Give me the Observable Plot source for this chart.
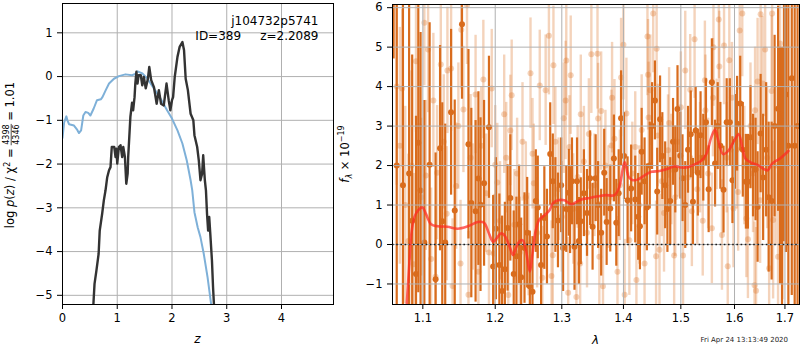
<!DOCTYPE html>
<html><head><meta charset="utf-8">
<script src="https://cdn.jsdelivr.net/npm/d3@7"></script>
<script src="https://cdn.jsdelivr.net/npm/@observablehq/plot@0.6"></script>
<style>
html,body{margin:0;padding:0;background:#fff;}
#wrap{position:relative;width:800px;height:350px;overflow:hidden;}
#wrap svg{position:absolute;top:0;}
</style></head><body><div id="wrap"></div>
<script>
// ---------- Left panel: log p(z) ----------
const zTicks = [0, 1, 2, 3, 4];
const pTicks = [-5, -4, -3, -2, -1, 0, 1];
const zBlue = [0, 0.03, 0.07, 0.09, 0.12, 0.21, 0.27, 0.30, 0.34, 0.38, 0.42, 0.47, 0.51, 0.57, 0.63, 0.70, 0.73, 0.79, 0.85, 0.94, 1.03, 1.15, 1.27, 1.33, 1.37, 1.46, 1.55, 1.67, 1.79, 1.91, 2.0, 2.10, 2.19, 2.27, 2.34, 2.37, 2.41, 2.47, 2.52, 2.58, 2.65, 2.72];
const logpBlue = [-1.4, -1.05, -0.91, -1.0, -1.09, -1.12, -1.22, -1.29, -1.23, -0.89, -0.81, -0.83, -0.89, -0.73, -0.54, -0.52, -0.47, -0.31, -0.16, -0.05, 0.01, 0.05, 0.03, 0.06, 0.12, 0.07, -0.05, -0.27, -0.50, -0.77, -0.96, -1.23, -1.53, -1.92, -2.37, -2.6, -3.1, -3.45, -3.67, -4.05, -4.59, -5.25];
const zDark = [0.56, 0.585, 0.62, 0.66, 0.68, 0.725, 0.755, 0.786, 0.817, 0.85, 0.877, 0.90, 0.92, 0.945, 0.969, 0.985, 1.0, 1.03, 1.06, 1.09, 1.11, 1.14, 1.165, 1.19, 1.2, 1.24, 1.27, 1.29, 1.316, 1.33, 1.35, 1.37, 1.39, 1.43, 1.457, 1.486, 1.52, 1.56, 1.585, 1.62, 1.67, 1.72, 1.76, 1.80, 1.85, 1.90, 1.94, 1.97, 2.0, 2.02, 2.05, 2.10, 2.14, 2.19, 2.22, 2.25, 2.29, 2.34, 2.39, 2.41, 2.46, 2.49, 2.52, 2.55, 2.57, 2.60, 2.62, 2.64, 2.66, 2.68, 2.70, 2.73, 2.75, 2.77];
const logpDark = [-5.3, -4.74, -4.43, -4.05, -3.52, -3.13, -2.83, -2.6, -2.3, -2.14, -2.07, -1.61, -1.61, -1.61, -1.84, -1.65, -1.99, -1.61, -1.57, -1.84, -1.61, -1.84, -2.45, -2.22, -1.84, -0.92, -0.6, -0.77, -0.47, -0.16, 0.11, -0.16, 0.03, 0.03, -0.2, -0.01, -0.27, -0.05, 0.22, -0.08, -0.24, -0.62, -0.31, -0.62, -0.66, -0.16, -0.54, -0.77, -0.54, -0.47, -0.01, 0.45, 0.68, 0.79, 0.60, -0.05, -0.31, -0.85, -1.0, -1.34, -1.61, -1.92, -2.37, -2.22, -1.80, -2.37, -2.6, -3.14, -3.52, -3.21, -3.6, -4.21, -4.82, -5.3];
const annoLines = ["j104732p5741", "ID=389\u00a0\u00a0\u00a0\u00a0\u00a0z=2.2089"];

// ---------- Right panel: spectrum ----------
const lamTicks = [1.1, 1.2, 1.3, 1.4, 1.5, 1.6, 1.7];
const fTicks = [-1, 0, 1, 2, 3, 4, 5, 6];
const lamA = [
 1.062,1.066,1.074,1.082,1.086,1.091,1.094,1.097,1.102,1.109,
 1.117,1.123,1.126,1.130,1.138,1.143,1.153,1.162,1.166,1.172,
 1.176,1.179,1.184,1.191,1.197,1.201,1.206,1.210,1.214,
 1.218,1.222,1.227,1.231,1.235,1.238,1.243,1.247,1.251,1.255,
 1.260,1.263,1.268,1.273,1.277,1.282,1.286,1.290,1.294,1.299,
 1.302,1.307,1.311,1.313,1.316,1.320,1.324,1.327,1.330,1.335,
 1.340,1.345,1.349,1.354,1.358,1.363,1.368,1.372,1.378,1.384,
 1.388,1.392,1.396,1.401,1.407,1.413,1.420,1.425,1.428,1.431,
 1.436,1.440,1.445,1.449,1.454,1.458,1.463,1.467,1.472,1.476,
 1.481,1.486,1.490,1.494,1.499,1.503,1.508,1.513,1.518,1.522,
 1.527,1.531,1.536,1.541,1.546,1.551,1.557,1.563,1.568,1.573,
 1.579,1.585,1.591,1.596,1.601,1.605,1.611,1.616,1.622,1.626,
 1.631,1.636,1.641,1.645,1.651,1.656,1.662,1.667,1.673,1.679,
 1.686,1.690,1.694,1.698,1.702,1.707,1.714,1.720,1.726];
const fluxA = [
 7.5,2.0,1.5,1.8,0.6,-0.75,2.58,1.37,0.05,2.02,
 -0.88,2.44,0.59,0.05,3.35,0.86,5.58,2.54,1.05,0.84,
 1.67,1.01,1.55,2.97,-0.56,0.4,-0.52,-1.18,-0.63,
 0.42,1.18,-0.75,-0.3,0.51,-0.83,-0.09,0.3,-1.06,-1.2,
 1.10,0.94,-0.52,0.67,0.2,2.29,1.60,1.0,0.61,1.5,
 -0.09,0.9,1.31,0.87,1.60,-0.06,1.60,0.09,0.59,1.30,
 0.8,1.68,0.45,1.68,1.0,0.3,1.82,0.57,0.91,2.18,
 0.55,1.3,3.20,2.24,1.12,1.42,1.14,0.7,0.46,2.35,
 1.6,0.94,2.0,3.0,3.65,1.34,3.17,2.24,1.5,0.9,
 1.10,2.6,1.9,3.43,2.25,1.68,1.0,2.4,2.79,1.08,
 2.89,1.82,2.77,2.2,3.1,1.4,4.11,2.05,3.0,2.5,
 1.39,3.1,3.10,1.63,2.6,3.06,3.57,2.4,1.59,1.59,
 2.72,2.0,1.90,0.95,2.81,1.7,2.4,1.2,1.10,3.0,
 3.44,2.0,1.5,3.27,3.80,2.5,4.21,2.5,3.0];
const errA = [
 2.8,6,5,4.5,4.2,4.0,3.8,4.0,3.6,3.6,
 3.2,2.6,3.0,3.0,2.1,2.8,1.9,2.4,2.4,2.3,
 2.2,2.2,2.1,1.8,1.8,1.8,1.8,1.9,1.7,
 1.6,1.6,1.6,1.5,1.5,1.5,1.4,1.4,1.4,1.4,
 1.3,1.3,1.3,1.3,1.2,1.3,1.2,1.2,1.2,1.2,
 1.1,1.1,1.1,1.1,1.1,1.1,1.1,1.1,1.1,1.1,
 1.1,1.2,1.1,1.1,1.1,1.1,1.1,1.1,1.1,1.1,
 1.1,1.1,1.2,1.1,1.1,1.1,1.1,1.1,1.1,1.1,
 1.1,1.1,1.1,1.1,1.0,1.1,1.1,1.1,1.1,1.1,
 1.1,1.1,1.1,1.1,1.1,1.1,1.1,1.1,1.1,1.1,
 1.1,1.1,1.1,1.1,1.1,1.1,1.1,1.1,1.1,1.1,
 1.1,1.1,1.1,1.1,1.2,1.2,1.2,1.2,1.2,1.2,
 1.3,1.3,1.3,1.4,1.5,1.6,1.7,1.9,2.0,2.3,
 2.6,3.0,3.5,3.2,4.0,5,5.5,6,7];
const lamB = [
 1.066,1.070,1.073,1.077,1.081,1.085,1.088,1.091,1.095,1.098,
 1.102,1.104,1.107,1.111,1.114,1.117,1.119,1.124,1.128,1.132,
 1.133,1.138,1.140,1.145,1.148,1.151,1.152,1.155,1.160,1.162,
 1.165,1.168,1.172,1.176,1.180,1.183,1.187,1.191,1.195,1.198,
 1.200,1.203,1.207,1.213,1.216,1.219,1.222,1.224,1.228,1.232,
 1.236,1.240,1.245,1.249,1.252,1.255,1.257,1.262,1.266,1.270,
 1.275,1.280,1.284,1.286,1.287,1.290,1.295,1.300,1.303,1.306,
 1.307,1.310,1.312,1.314,1.318,1.323,1.325,1.329,1.330,1.335,
 1.340,1.343,1.347,1.352,1.357,1.358,1.360,1.363,1.366,1.370,
 1.375,1.380,1.381,1.385,1.390,1.394,1.396,1.400,1.402,1.405,
 1.410,1.415,1.420,1.422,1.427,1.431,1.436,1.441,1.442,1.443,
 1.446,1.451,1.456,1.457,1.459,1.462,1.466,1.470,1.477,1.479,
 1.483,1.488,1.490,1.495,1.500,1.504,1.508,1.513,1.517,1.520,
 1.525,1.530,1.535,1.540,1.544,1.545,1.550,1.557,1.559,1.560,
 1.566,1.570,1.571,1.576,1.580,1.585,1.587,1.590,1.595,1.598,
 1.604,1.607,1.610,1.615,1.619,1.623,1.626,1.631,1.636,1.639,
 1.640,1.642,1.645,1.650,1.651,1.655,1.660,1.664,1.668,1.673,
 1.674,1.676,1.681,1.686,1.690,1.695,1.700];
const fluxB = [
 4.0,2.5,3.95,1.0,0.09,2.0,-0.5,4.64,3.0,1.2,
 5.62,1.75,4.94,-0.37,3.65,-0.82,1.82,4.56,2.6,0.78,
 4.41,4.46,-1.05,1.48,3.0,-0.48,5.44,3.42,6.06,-1.27,
 2.2,0.95,3.8,-0.69,2.5,4.18,1.3,-0.2,3.95,-0.23,
 2.02,1.57,0.6,3.3,2.2,-1.28,2.89,3.78,0.5,1.8,
 -0.2,2.6,1.2,0.0,4.34,2.30,1.55,0.3,4.03,-0.84,
 3.91,5.29,-0.8,-0.27,4.54,2.6,1.4,0.7,3.2,3.65,
 4.66,-1.22,2.47,4.29,0.9,-1.33,1.71,-0.48,3.3,2.1,
 0.3,2.8,4.82,1.5,4.83,3.19,-0.31,3.38,-1.06,2.0,
 1.2,2.51,3.72,2.68,-0.69,1.5,4.23,5.06,-1.27,3.32,
 0.11,1.8,2.47,-0.9,1.0,2.9,-0.48,5.27,4.30,3.22,
 3.91,5.85,-0.30,4.96,2.76,-0.13,1.6,0.8,2.39,3.08,
 1.9,-0.28,1.2,2.6,3.48,-0.28,4.41,1.7,3.92,0.84,
 5.2,1.4,2.2,0.6,4.16,3.4,1.8,0.41,3.72,5.0,
 2.79,5.70,4.51,0.24,5.04,2.2,-0.55,4.67,3.72,0.91,
 2.4,1.33,5.42,5.85,2.0,0.66,0.13,3.0,1.8,-1.03,
 3.4,-1.17,4.13,1.12,5.83,4.08,4.94,2.2,-0.6,3.89,
 5.85,0.62,2.0,-0.31,5.09,1.0,3.0];
const errB = [
 2.5,3.0,2.0,2.5,2.2,2.4,2.3,1.8,2.0,2.0,
 1.6,1.9,1.6,1.8,1.7,1.8,1.7,1.6,1.7,1.7,
 1.6,1.6,1.7,1.6,1.6,1.6,1.5,1.6,1.5,1.6,
 1.6,1.6,1.5,1.5,1.5,1.5,1.5,1.5,1.5,1.5,
 1.5,1.5,1.5,1.5,1.4,1.4,1.4,1.4,1.4,1.4,
 1.4,1.5,1.4,1.3,1.4,1.4,1.5,1.4,1.4,1.3,
 1.4,1.5,1.4,1.4,1.5,1.4,1.3,1.4,1.4,1.5,
 1.4,1.4,1.3,1.5,1.4,1.4,1.3,1.4,1.5,1.4,
 1.4,1.4,1.5,1.3,1.4,1.4,1.4,1.5,1.4,1.4,
 1.3,1.4,1.4,1.5,1.4,1.4,1.5,1.4,1.4,1.4,
 1.4,1.3,1.4,1.4,1.5,1.4,1.4,1.5,1.4,1.4,
 1.4,1.5,1.4,1.4,1.3,1.4,1.4,1.5,1.4,1.4,
 1.4,1.4,1.5,1.4,1.4,1.4,1.5,1.4,1.4,1.4,
 1.5,1.4,1.4,1.4,1.5,1.4,1.4,1.4,1.5,1.5,
 1.4,1.5,1.4,1.4,1.5,1.4,1.5,1.5,1.4,1.5,
 1.5,1.5,1.5,1.6,1.5,1.5,1.5,1.6,1.5,1.6,
 1.6,1.6,1.6,1.6,1.7,1.7,1.7,1.8,1.8,1.9,
 1.9,2.0,2.0,2.1,2.2,2.4,2.5];
const lamModel = [1.077,1.079,1.082,1.085,1.089,1.094,1.0996,1.104,1.111,1.120,1.133,1.147,1.161,1.175,1.184,1.191,1.197,1.2035,1.208,1.213,1.221,1.226,1.230,1.235,1.240,1.245,1.251,1.255,1.260,1.265,1.273,1.281,1.286,1.294,1.304,1.315,1.323,1.331,1.344,1.358,1.371,1.385,1.393,1.402,1.409,1.416,1.425,1.436,1.448,1.462,1.477,1.489,1.501,1.513,1.525,1.538,1.547,1.556,1.563,1.569,1.578,1.588,1.598,1.608,1.615,1.621,1.633,1.646,1.656,1.665,1.674,1.690,1.707];
const fluxModel = [-2.0,-1.49,-0.57,0.28,0.70,0.87,0.94,0.78,0.51,0.46,0.45,0.40,0.46,0.57,0.55,0.28,0.07,0.19,0.28,0.24,-0.06,-0.27,-0.10,0.07,0.11,-0.14,-0.69,-0.23,0.36,0.62,0.74,0.87,1.04,1.12,1.12,1.02,1.08,1.14,1.18,1.22,1.25,1.25,1.46,2.09,1.71,1.63,1.65,1.75,1.84,1.86,1.92,1.98,1.95,1.96,2.03,2.13,2.30,2.72,2.91,2.64,2.29,2.37,2.60,2.79,2.47,2.18,2.07,2.01,1.92,1.88,2.05,2.18,2.37];
const zeroLevel = [0];
const dateText = "Fri Apr 24 13:13:49 2020";

// ---------- build tables ----------
const blue = zBlue.map((z, i) => ({z, p: logpBlue[i]}));
const dark = zDark.map((z, i) => ({z, p: logpDark[i]}));
const specA = lamA.map((lam, i) => ({lam, f: fluxA[i], e: errA[i]}));
const specB = lamB.map((lam, i) => ({lam, f: fluxB[i], e: errB[i]}));
const model = lamModel.map((lam, i) => ({lam, f: fluxModel[i]}));

const FONT = "DejaVu Sans";
const GRID = "#b0b0b0";
const ORANGE = "#d96c1d";
const minus = d => d < 0 ? "\u2212" + Math.abs(d) : String(d);

const left = Plot.plot({
  width: 340, height: 350,
  marginLeft: 62, marginRight: 7, marginTop: 3, marginBottom: 46,
  style: {fontFamily: FONT, fontSize: "11.5px", color: "black", background: "white", overflow: "visible"},
  x: {domain: [0, 4.95]},
  y: {domain: [-5.21, 1.67]},
  marks: [
    Plot.gridX(zTicks, {stroke: GRID, strokeOpacity: 1, strokeWidth: 1}),
    Plot.gridY(pTicks, {stroke: GRID, strokeOpacity: 1, strokeWidth: 1}),
    Plot.line(blue, {x: "z", y: "p", stroke: "#7eb0d8", strokeWidth: 2, clip: true}),
    Plot.line(dark, {x: "z", y: "p", stroke: "#333333", strokeWidth: 2.4, clip: true}),
    Plot.frame({stroke: "black", strokeWidth: 1}),
    Plot.axisX(zTicks, {tickSize: 5, tickPadding: 4, label: null, tickFormat: minus}),
    Plot.axisY(pTicks, {tickSize: 5, tickPadding: 5, label: null, tickFormat: minus}),
    Plot.text([annoLines.join("\n")], {text: d => d, frameAnchor: "top-right", dx: -15, dy: 11,
      textAnchor: "end", lineAnchor: "top", lineHeight: 1.25, fontSize: 12, fill: "black"})
  ]
});

const right = Plot.plot({
  width: 460, height: 350,
  marginLeft: 52, marginRight: 1, marginTop: 4, marginBottom: 46,
  style: {fontFamily: FONT, fontSize: "11.5px", color: "black", background: "transparent", overflow: "visible"},
  x: {type: "log", domain: [1.0606, 1.730]},
  y: {domain: [-1.52, 6.08]},
  marks: [
    Plot.ruleX(specB, {x: "lam", y1: d => d.f - d.e, y2: d => d.f + d.e, stroke: ORANGE, strokeOpacity: 0.3, strokeWidth: 2.4, clip: true}),
    Plot.dot(specB, {x: "lam", y: "f", r: 3, fill: ORANGE, fillOpacity: 0.3, clip: true}),
    Plot.ruleX(specA, {x: "lam", y1: d => d.f - d.e, y2: d => d.f + d.e, stroke: ORANGE, strokeWidth: 2.2, clip: true}),
    Plot.dot(specA, {x: "lam", y: "f", r: 3, fill: ORANGE, clip: true}),
    Plot.gridX(lamTicks, {stroke: GRID, strokeOpacity: 1, strokeWidth: 1}),
    Plot.gridY(fTicks, {stroke: GRID, strokeOpacity: 1, strokeWidth: 1}),
    Plot.ruleY(zeroLevel, {stroke: "black", strokeOpacity: 0.85, strokeWidth: 1.6, strokeDasharray: "1.6,2.6"}),
    Plot.line(model, {x: "lam", y: "f", stroke: "#ff2a22", strokeOpacity: 0.72, strokeWidth: 2.6, curve: "catmull-rom", clip: true}),
    Plot.frame({stroke: "black", strokeWidth: 1}),
    Plot.axisX(lamTicks, {tickSize: 5, tickPadding: 4, label: null, tickFormat: d => d.toFixed(1)}),
    Plot.axisY(fTicks, {tickSize: 5, tickPadding: 5, label: null, tickFormat: minus})
  ]
});

const wrap = document.getElementById("wrap");
left.style.left = "0px";
right.style.left = "340px";
wrap.appendChild(left);
wrap.appendChild(right);

// ---------- rich text labels (flowing tspans) ----------
function rich(svgNode, cx, cy, rot, pieces, baseSize) {
  const g = d3.select(svgNode).append("g")
    .attr("transform", `translate(${cx},${cy}) rotate(${rot})`);
  const text = g.append("text")
    .attr("text-anchor", "middle")
    .attr("font-family", FONT).attr("font-size", baseSize).attr("fill", "black")
    .style("white-space", "pre");
  let base = 0, idx = 0;
  const spans = [];
  for (const p of pieces) {
    const size = p.size || baseSize;
    if (p.frac) {
      const w = p.frac[0].length * 0.636 * size;
      const a = text.append("tspan").attr("font-size", size).attr("dy", p.up - base).text(p.frac[0]);
      spans.push({idx, len: p.frac[0].length, frac: p});
      idx += p.frac[0].length;
      text.append("tspan").attr("font-size", size).attr("dx", -w).attr("dy", p.down - p.up).text(p.frac[1]);
      idx += p.frac[1].length;
      base = p.down;
    } else {
      const dy = (p.dy || 0) - base;
      text.append("tspan").attr("font-size", size)
        .attr("font-style", p.it ? "italic" : "normal")
        .attr("dy", dy).text(p.t);
      idx += p.t.length;
      base = p.dy || 0;
    }
  }
  for (const s of spans) {
    try {
      const n = text.node();
      const s0 = n.getStartPositionOfChar(s.idx);
      const e0 = n.getEndPositionOfChar(s.idx + s.len - 1);
      g.append("line").attr("x1", s0.x - 0.5).attr("x2", e0.x + 0.5)
        .attr("y1", s.frac.bar).attr("y2", s.frac.bar)
        .attr("stroke", "black").attr("stroke-width", 0.7);
    } catch (err) {}
  }
}

rich(left, 14, 155, -90, [
  {t: "log "}, {t: "p", it: 1}, {t: "("}, {t: "z", it: 1}, {t: ") / \u03c7"},
  {t: "2", size: 8, dy: -4.5}, {t: " = "},
  {frac: ["4398", "4346"], size: 8, up: -5, down: 5, bar: -2.8},
  {t: " = 1.01"}
], 11.5);
rich(left, 197.5, 343, 0, [{t: "z", it: 1}], 12);

rich(right, 8.5, 154, -90, [
  {t: "f", it: 1}, {t: "\u03bb", it: 1, size: 8, dy: 3}, {t: " \u00d7 10"},
  {t: "\u221219", size: 8, dy: -5}
], 11.5);
rich(right, 255.5, 344, 0, [{t: "\u03bb", it: 1}], 12);

d3.select(right).append("text")
  .attr("x", 448).attr("y", 342).attr("text-anchor", "end")
  .attr("font-family", FONT).attr("font-size", 7).attr("fill", "#222")
  .text(dateText);
</script>
</body></html>
